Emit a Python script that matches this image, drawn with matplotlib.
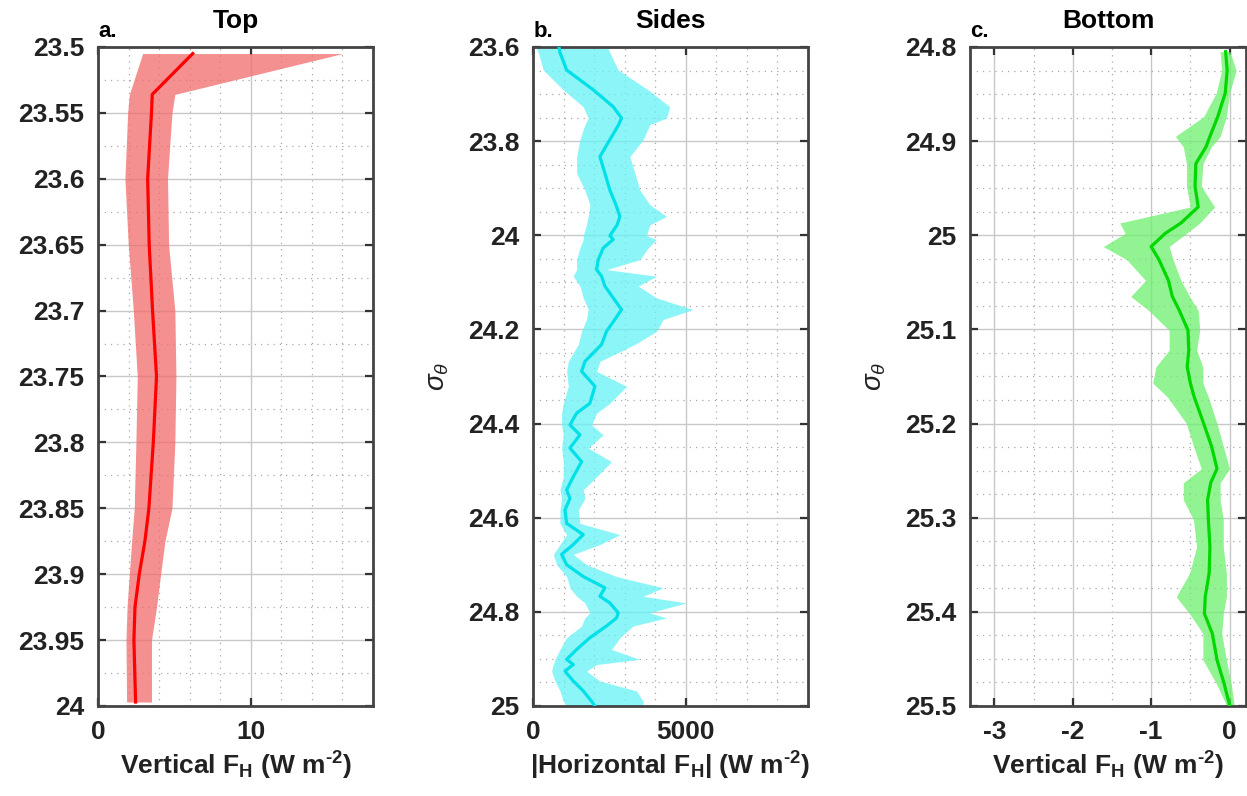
import numpy as np
import matplotlib
matplotlib.use('Agg')
import matplotlib.pyplot as plt
from matplotlib.ticker import MultipleLocator, FuncFormatter

plt.rcParams['font.family'] = ['Liberation Sans', 'DejaVu Sans']
plt.rcParams['font.weight'] = 'bold'
plt.rcParams['mathtext.fontset'] = 'custom'
plt.rcParams['mathtext.rm'] = 'Liberation Sans:bold'
plt.rcParams['mathtext.bf'] = 'Liberation Sans:bold'
plt.rcParams['mathtext.it'] = 'Liberation Sans:style=italic:weight=normal'

# panel a - top
sig_a = [23.505, 23.536, 23.55, 23.6, 23.65, 23.7, 23.75, 23.8, 23.85, 23.875,
         23.9, 23.925, 23.95, 23.997]
mean_a = [6.2, 3.55, 3.5, 3.25, 3.35, 3.57, 3.83, 3.62, 3.33, 3.07, 2.7, 2.42, 2.35, 2.46]
lo_a = [2.92, 2.05, 1.94, 1.76, 1.98, 2.31, 2.57, 2.48, 2.37, 2.2, 2.05, 1.9, 1.83, 1.87]
hi_a = [16.0, 5.03, 4.84, 4.55, 4.62, 5.03, 5.1, 5.03, 4.84, 4.38, 4.1, 3.83, 3.5, 3.5]

# panel b - sides
sig_b = [23.603, 23.612, 23.649, 23.691, 23.727, 23.751, 23.765, 23.797, 23.833, 23.868,
         23.904, 23.935, 23.960, 23.978, 24.001, 24.009, 24.027, 24.052, 24.073, 24.087,
         24.108, 24.133, 24.158, 24.179, 24.204, 24.232, 24.268, 24.289, 24.321, 24.357,
         24.378, 24.403, 24.424, 24.452, 24.481, 24.513, 24.541, 24.559, 24.584, 24.612,
         24.636, 24.657, 24.678, 24.700, 24.725, 24.749, 24.767, 24.781, 24.802, 24.813,
         24.830, 24.855, 24.880, 24.901, 24.912, 24.926, 24.947, 24.968, 24.990, 25.0]
mean_b = [850, 874, 1093, 1965, 2620, 2893, 2800, 2510, 2183, 2347,
          2510, 2708, 2839, 2750, 2510, 2620, 2292, 2129, 2074, 2238,
          2347, 2620, 2893, 2674, 2401, 2238, 1692, 1583, 2020, 1855,
          1420, 1201, 1528, 1201, 1583, 1310, 1092, 1201, 1037, 1092,
          1637, 1310, 927, 1092, 1637, 2347, 2183, 2510, 2783, 2730,
          2401, 1855, 1420, 1092, 1310, 1037, 1310, 1637, 1910, 2020]
lo_b = [100, 164, 327, 982, 1637, 1800, 1690, 1528, 1420, 1420,
        1690, 1855, 1800, 1740, 1637, 1637, 1528, 1420, 1420, 1310,
        1528, 1637, 1800, 1740, 1583, 1474, 1147, 1092, 1147, 982,
        927, 927, 982, 927, 982, 982, 873, 927, 873, 873,
        1092, 873, 655, 764, 1092, 1201, 1420, 1690, 1855, 1690,
        1583, 1092, 873, 710, 655, 600, 710, 873, 982, 1092]
hi_b = [2450, 2510, 2783, 3765, 4476, 4367, 3820, 3601, 3166, 3330,
        3493, 3820, 4367, 3820, 3710, 4040, 3765, 3493, 2402, 4040,
        3438, 4040, 5239, 4258, 4040, 3330, 2183, 2074, 3057, 2510,
        2074, 1912, 2292, 1800, 2565, 2074, 1637, 1692, 1474, 1528,
        2839, 2183, 1310, 1746, 2729, 4258, 3601, 5021, 3820, 4367,
        3275, 2839, 2565, 3493, 2074, 1746, 2183, 3384, 3601, 3601]

# panel c - bottom
sig_c = [24.805, 24.825, 24.849, 24.874, 24.895, 24.906, 24.924, 24.948, 24.970, 24.987,
         24.998, 25.012, 25.026, 25.048, 25.065, 25.080, 25.101, 25.122, 25.140, 25.157,
         25.172, 25.200, 25.224, 25.248, 25.263, 25.281, 25.302, 25.331, 25.359, 25.384,
         25.402, 25.423, 25.451, 25.476, 25.499]
mean_c = [-0.05, -0.03, -0.055, -0.15, -0.25, -0.30, -0.43, -0.44, -0.40, -0.62,
          -0.82, -1.0, -0.9, -0.78, -0.73, -0.64, -0.53, -0.52, -0.54, -0.50,
          -0.45, -0.33, -0.23, -0.16, -0.24, -0.28, -0.27, -0.25, -0.26, -0.31,
          -0.32, -0.22, -0.16, -0.07, 0.0]
lo_c = [-0.12, -0.10, -0.17, -0.33, -0.69, -0.59, -0.55, -0.55, -0.50, -1.40,
        -1.33, -1.61, -1.31, -1.07, -1.26, -1.03, -0.77, -0.77, -0.94, -0.98,
        -0.79, -0.55, -0.46, -0.36, -0.59, -0.59, -0.46, -0.42, -0.51, -0.68,
        -0.51, -0.34, -0.34, -0.17, -0.04]
hi_c = [0.005, 0.085, 0.0, -0.04, -0.12, -0.23, -0.34, -0.36, -0.19, -0.38,
        -0.55, -0.77, -0.72, -0.62, -0.51, -0.40, -0.38, -0.42, -0.34, -0.34,
        -0.27, -0.16, -0.08, 0.0, -0.12, -0.12, -0.08, -0.08, -0.04, -0.04,
        -0.08, -0.10, -0.04, 0.02, 0.06]

fig = plt.figure(figsize=(12.47, 7.96), dpi=100)

panels = [
    dict(pos=[0.0786, 0.1131, 0.2205, 0.8279], sig=sig_a, m=mean_a, lo=lo_a, hi=hi_a,
         line='#ff0000', fill='#f26b6b', xlim=(0, 18), xmaj=10, xmin=2,
         ylim=(24, 23.5), ymaj=0.05, ymin=0.025, title='Top', tag='a.',
         xlabel=r'Vertical F$_{\rm H}$ (W m$^{\text{-2}}$)', ylabel=None),
    dict(pos=[0.4277, 0.1131, 0.2200, 0.8279], sig=sig_b, m=mean_b, lo=lo_b, hi=hi_b,
         line='#00e0e8', fill='#66f2f5', xlim=(0, 9000), xmaj=5000, xmin=1000,
         ylim=(25, 23.6), ymaj=0.2, ymin=0.05, title='Sides', tag='b.',
         xlabel=r'|Horizontal F$_{\rm H}$| (W m$^{\text{-2}}$)', ylabel=r'$\sigma_\theta$'),
    dict(pos=[0.7779, 0.1131, 0.2213, 0.8279], sig=sig_c, m=mean_c, lo=lo_c, hi=hi_c,
         line='#00d800', fill='#6cef6c', xlim=(-3.31, 0.21), xmaj=1, xmin=0.5,
         ylim=(25.5, 24.8), ymaj=0.1, ymin=0.025, title='Bottom', tag='c.',
         xlabel=r'Vertical F$_{\rm H}$ (W m$^{\text{-2}}$)', ylabel=r'$\sigma_\theta$'),
]

for p in panels:
    ax = fig.add_axes(p['pos'])
    ax.fill_betweenx(p['sig'], p['lo'], p['hi'], color=p['fill'], alpha=0.75, lw=0, zorder=2)
    ax.plot(p['m'], p['sig'], color=p['line'], lw=2.3, zorder=3)
    ax.set_xlim(*p['xlim'])
    ax.set_ylim(*p['ylim'])
    ax.xaxis.set_major_locator(MultipleLocator(p['xmaj']))
    ax.xaxis.set_minor_locator(MultipleLocator(p['xmin']))
    ax.yaxis.set_major_locator(MultipleLocator(p['ymaj']))
    ax.yaxis.set_minor_locator(MultipleLocator(p['ymin']))
    ax.yaxis.set_major_formatter(FuncFormatter(lambda v, pos: '%g' % round(v, 4)))
    ax.xaxis.set_major_formatter(FuncFormatter(lambda v, pos: '%g' % round(v, 4)))
    ax.grid(which='major', color='#c8c8c8', lw=1.0, zorder=0)
    ax.grid(which='minor', color='#a8a8a8', lw=0.9, ls=(0, (1, 4)), zorder=0)
    ax.set_axisbelow(True)
    ax.tick_params(which='major', direction='in', length=6, width=1.6, color='#333333',
                   top=True, right=True, labelsize=19, pad=10, labelcolor='#222222')
    ax.tick_params(which='minor', length=0)
    for s in ax.spines.values():
        s.set_color('#444444')
        s.set_linewidth(2)
    for lab in ax.get_xticklabels() + ax.get_yticklabels():
        lab.set_fontweight('bold')
    ax.set_xlabel(p['xlabel'], fontsize=19, fontweight='bold', color='#222222', labelpad=4)
    if p['ylabel']:
        ax.set_ylabel(p['ylabel'], fontsize=20, fontweight='normal', color='#222222', labelpad=12)
    ax.set_title(p['title'], fontsize=19, fontweight='bold', pad=14)
    ax.text(0.0, 1.008, p['tag'], transform=ax.transAxes, fontsize=16,
            fontweight='bold', ha='left', va='bottom')

fig.savefig('out.png', dpi=100)
